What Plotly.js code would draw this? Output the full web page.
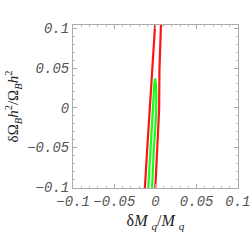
<!DOCTYPE html>
<html>
<head>
<meta charset="utf-8">
<script src="https://cdn.plot.ly/plotly-3.0.1.min.js"></script>
<style>html,body{margin:0;padding:0;background:#fff;}#plot{width:250px;height:250px;}</style>
</head>
<body>
<div id="plot"></div>
<script>
// Outer (red) contour: left and right branches
const redLeftX  = [0.0000, -0.0004, -0.0029, -0.0044, -0.0071, -0.0101, -0.0129, -0.0135];
const redLeftY  = [0.1121,  0.1058,  0.0740,  0.0486, -0.0022, -0.0529, -0.1012, -0.1110];
const redRightX = [0.0069,  0.0065,  0.0056,  0.0048,  0.0044,  0.0020, -0.0001, -0.0007];
const redRightY = [0.1121,  0.1020,  0.0740,  0.0486, -0.0022, -0.0529, -0.1012, -0.1110];
// Inner (green) contour
const greenX = [-0.0094, -0.0089, -0.0065, -0.0041, -0.0025, -0.0014, -0.0004, 0.0005, 0.0010, 0.0008, -0.0020, -0.0041, -0.0046];
const greenY = [-0.1110, -0.1012, -0.0529, -0.0085,  0.0169,  0.0296,  0.0368, 0.0296, 0.0169, -0.0085, -0.0529, -0.1012, -0.1110];
// Tick values / labels
const xTickVals = [-0.1, -0.05, 0, 0.05, 0.1];
const xTickText = ["\u22120.1", "\u22120.05", "0", "0.05", "0.1"];
const yTickVals = [-0.1, -0.05, 0, 0.05, 0.1];
const yTickText = ["\u22120.1", "\u22120.05", "0", "0.05", "0.1"];

const red = 'rgb(255,20,20)';
const green = 'rgb(20,255,20)';
const traces = [
  {x: redLeftX, y: redLeftY, mode: 'lines', line: {color: red, width: 2.2}, hoverinfo: 'skip'},
  {x: redRightX, y: redRightY, mode: 'lines', line: {color: red, width: 2.2}, hoverinfo: 'skip'},
  {x: greenX, y: greenY, mode: 'lines', line: {color: green, width: 2.2}, hoverinfo: 'skip'}
];
const tickFont = {family: 'Liberation Mono', size: 14, color: '#555', style: 'italic'};
const axisCommon = {
  showgrid: false, zeroline: false, showline: true, linecolor: '#aaa', linewidth: 1,
  mirror: 'ticks', ticks: 'inside', ticklen: 4, tickcolor: '#aaa', tickwidth: 1,
  tickmode: 'array', tickfont: tickFont, ticklabeloverflow: 'allow',
  minor: {ticks: 'inside', ticklen: 2, tickcolor: '#bbb', dtick: 0.01, showgrid: false}
};
const layout = {
  width: 250, height: 250,
  margin: {l: 73, r: 12, t: 25, b: 62},
  paper_bgcolor: '#fff', plot_bgcolor: '#fff',
  showlegend: false,
  xaxis: Object.assign({}, axisCommon, {
    range: [-0.1002, 0.1002], tickvals: xTickVals, ticktext: xTickText,
    title: {text: '\u03b4<i>M</i> <sub><i>q</i></sub>/<i>M</i> <sub><i>q</i></sub>', font: {family: 'Liberation Serif', size: 16, color: '#222'}, standoff: 6}
  }),
  yaxis: Object.assign({}, axisCommon, {
    range: [-0.1012, 0.1042], tickvals: yTickVals, ticktext: yTickText,
    title: {text: '\u03b4\u03a9<sub><i>B</i></sub><i>h</i><sup>2</sup>/\u03a9<sub><i>B</i></sub><i>h</i><sup>2</sup>', font: {family: 'Liberation Serif', size: 15, color: '#222'}, standoff: 4}
  })
};
Plotly.newPlot('plot', traces, layout, {staticPlot: true, displayModeBar: false});
</script>
</body>
</html>
